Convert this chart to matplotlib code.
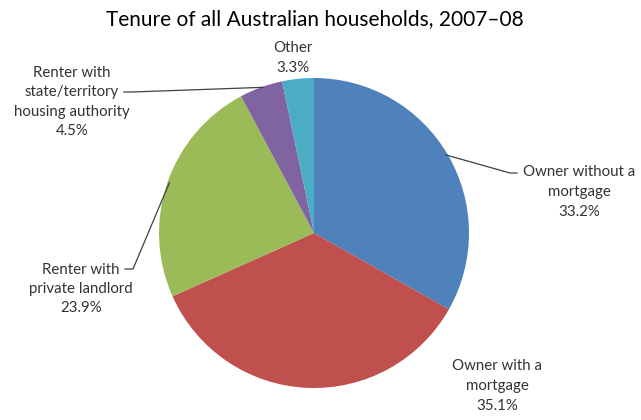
import numpy as np
import matplotlib
matplotlib.use('Agg')
import matplotlib.pyplot as plt

plt.rcParams['font.family'] = ['Lato', 'DejaVu Sans']

# 数据
labels = ['Owner without a\nmortgage', 'Owner with a\nmortgage', 'Renter with\nprivate landlord',
          'Renter with\nstate/territory\nhousing authority', 'Other']
shares = [33.2, 35.1, 23.9, 4.5, 3.3]
colors = ['#4F81BD', '#C0504D', '#9BBB59', '#8064A2', '#4BACC6']

W, H = 641, 420
fig = plt.figure(figsize=(W / 100, H / 100), dpi=100)
ax = fig.add_axes([0, 0, 1, 1])

cx, cy, r = 314, H - 233, 155
wedges, _ = ax.pie(shares, colors=colors, startangle=90, counterclock=False,
                   center=(cx, cy), radius=r, wedgeprops=dict(linewidth=0))

ax.set_xlim(0, W)
ax.set_ylim(0, H)
ax.set_aspect('equal')
ax.axis('off')

# 标签位置（像素，y 向下）和引线
label_pos = [(579, 192), (497, 386), (81, 289), (72, 102), (293, 58)]
leader_text_end = [(517, 173), None, (125, 269), (124, 92), None]

txtcol = '#333333'
for w, lab, val, (lx, ly), lend in zip(wedges, labels, shares, label_pos, leader_text_end):
    ax.text(lx, H - ly, f'{lab}\n{val}%', ha='center', va='center', fontsize=10.8,
            color=txtcol, linespacing=1.5)
    if lend is not None:
        mid = np.deg2rad((w.theta1 + w.theta2) / 2)
        ex, ey = cx + r * np.cos(mid), cy + r * np.sin(mid)
        tx, ty = lend[0], H - lend[1]
        if tx > cx:
            xs, ys = [ex - 2, tx - 7, tx], [ey, ty, ty]
        else:
            xs, ys = [ex + 2, tx + 8, tx], [ey, ty, ty]
        ax.plot(xs, ys, color='#404040', linewidth=0.9)

ax.text(W / 2 - 6, H - 19, 'Tenure of all Australian households, 2007–08', ha='center', va='center',
        fontsize=15, color='black')

fig.savefig('out.png', dpi=100)
